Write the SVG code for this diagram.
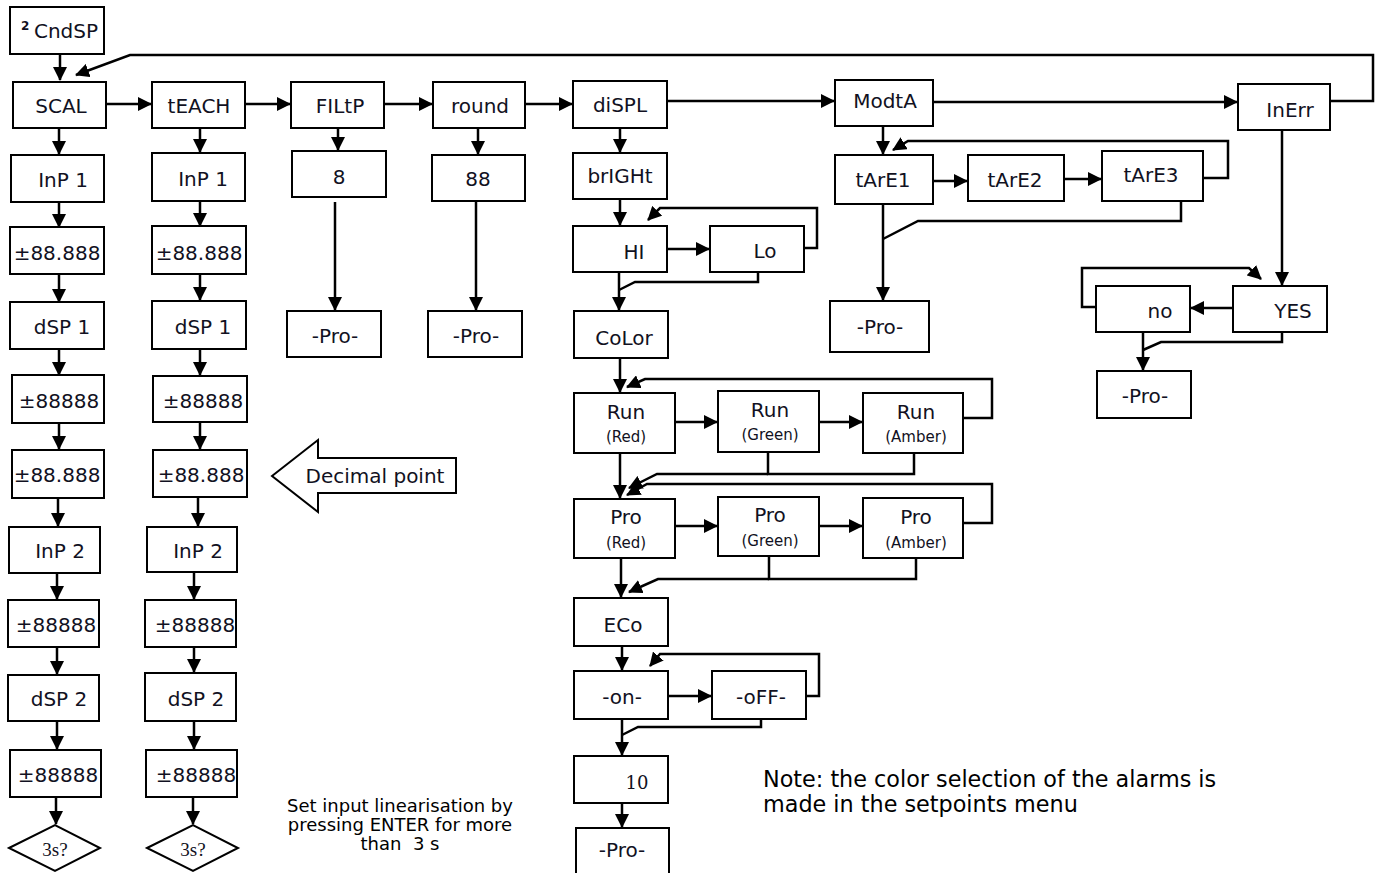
<svg xmlns="http://www.w3.org/2000/svg" width="1384" height="873" viewBox="0 0 1384 873">
<style>
.b{fill:#fff;stroke:#000;stroke-width:2}
.t{font-family:"DejaVu Sans",Verdana,sans-serif;font-size:20px;fill:#111122;text-anchor:middle}
.s{font-family:"DejaVu Sans",Verdana,sans-serif;font-size:15px;fill:#111122;text-anchor:middle}
.sf{font-family:"Liberation Serif","DejaVu Serif",serif;font-size:19px;fill:#111122;text-anchor:middle}
.c{fill:none;stroke:#000;stroke-width:2.5}
.n{font-family:"DejaVu Sans",Verdana,sans-serif;font-size:22.3px;fill:#000}
.m{font-family:"DejaVu Sans",Verdana,sans-serif;font-size:18px;fill:#000;text-anchor:middle;white-space:pre}
</style>
<defs>
<marker id="ah" viewBox="0 0 14 14" refX="13" refY="7" markerWidth="14" markerHeight="14" markerUnits="userSpaceOnUse" orient="auto">
<path d="M0,0 L14,7 L0,14 z" fill="#000"/>
</marker>
</defs>
<rect width="1384" height="873" fill="#fff"/>

<g id="connectors" class="c" marker-end="url(#ah)">
<path d="M60,54 V80"/>
<path d="M1330,101 H1373 V55 H130 L76,75"/>
<path d="M106,104 H151"/>
<path d="M245,104 H290"/>
<path d="M384,104 H432"/>
<path d="M525,104 H572"/>
<path d="M667,101 H834"/>
<path d="M933,102 H1237"/>
<path d="M59,128 V154"/>
<path d="M59,202 V227"/>
<path d="M59,274 V302"/>
<path d="M59,349 V375"/>
<path d="M59,423 V449"/>
<path d="M58,498 V526"/>
<path d="M57,573 V599"/>
<path d="M57,647 V674"/>
<path d="M57,721 V749"/>
<path d="M56,797 V824"/>
<path d="M200,128 V152"/>
<path d="M200,201 V226"/>
<path d="M200,274 V300"/>
<path d="M200,349 V375"/>
<path d="M200,422 V449"/>
<path d="M198,497 V526"/>
<path d="M194,572 V599"/>
<path d="M194,647 V672"/>
<path d="M194,721 V749"/>
<path d="M193,797 V824"/>
<path d="M338,128 V150"/>
<path d="M335,202 V310"/>
<path d="M478,128 V154"/>
<path d="M476,201 V310"/>
<path d="M620,128 V152"/>
<path d="M620,199 V225"/>
<path d="M667,249 H709"/>
<path d="M804,248 H817 V208 H660 L648,220"/>
<path d="M619,272 V310"/>
<path d="M620,358 V392"/>
<path d="M675,422 H717"/>
<path d="M819,422 H862"/>
<path d="M963,418 H992 V379 H645 L627,387"/>
<path d="M620,453 V498"/>
<path d="M675,526 H717"/>
<path d="M819,526 H862"/>
<path d="M963,523 H992 V484 H647 L627,495"/>
<path d="M621,558 V597"/>
<path d="M622,646 V670"/>
<path d="M668,696 H711"/>
<path d="M806,696 H819 V654 H660 L650,666"/>
<path d="M622,719 V755"/>
<path d="M622,803 V827"/>
<path d="M883,126 V154"/>
<path d="M933,181 H967"/>
<path d="M1064,179 H1101"/>
<path d="M1203,178 H1228 V141 H908 L893,150"/>
<path d="M883,204 V300"/>
<path d="M1282,130 V285"/>
<path d="M1233,308 H1191"/>
<path d="M1096,307 H1082 V268 H1249 L1261,279"/>
<path d="M1143,332 V370"/>
</g>
<g id="merges" class="c">
<path d="M758,272 V282 H635 L619,290"/>
<path d="M768,452 V474 H914 V453"/>
<path d="M768,474 H657 L629,488" marker-end="url(#ah)"/>
<path d="M769,556 V579 H916 V558"/>
<path d="M769,579 H658 L629,592" marker-end="url(#ah)"/>
<path d="M761,719 V727 H638 L622,735"/>
<path d="M1181,201 V221 H918 L883,239"/>
<path d="M1282,332 V342 H1161 L1143,350"/>
</g>

<g id="n-cndsp"><rect class="b" x="10" y="7" width="94" height="47"/><text x="21" y="30" style="font-family:'DejaVu Sans',sans-serif;font-size:12px;font-weight:bold;fill:#111122">2</text><text class="t" x="66" y="38">CndSP</text></g>

<g id="n-scal"><rect class="b" x="13" y="82" width="93" height="46"/><text class="t" x="61" y="113">SCAL</text></g>
<g id="n-teach"><rect class="b" x="152" y="82" width="93" height="46"/><text class="t" x="199" y="113">tEACH</text></g>
<g id="n-filtp"><rect class="b" x="291" y="82" width="93" height="46"/><text class="t" x="340" y="113">FILtP</text></g>
<g id="n-round"><rect class="b" x="433" y="82" width="92" height="46"/><text class="t" x="480" y="113">round</text></g>
<g id="n-displ"><rect class="b" x="573" y="81" width="94" height="47"/><text class="t" x="620" y="112">diSPL</text></g>
<g id="n-modta"><rect class="b" x="835" y="80" width="98" height="46"/><text class="t" x="885" y="108">ModtA</text></g>
<g id="n-inerr"><rect class="b" x="1238" y="84" width="92" height="46"/><text class="t" x="1290" y="117">InErr</text></g>

<g id="n-inp1a"><rect class="b" x="11" y="155" width="93" height="47"/><text class="t" x="63" y="187">InP 1</text></g>
<g id="n-v1a"><rect class="b" x="10" y="227" width="94" height="47"/><text class="t" x="57" y="260">±88.888</text></g>
<g id="n-dsp1a"><rect class="b" x="10" y="302" width="94" height="47"/><text class="t" x="62" y="334">dSP 1</text></g>
<g id="n-v2a"><rect class="b" x="12" y="375" width="92" height="48"/><text class="t" x="59" y="408">±88888</text></g>
<g id="n-v3a"><rect class="b" x="12" y="450" width="92" height="48"/><text class="t" x="57" y="482">±88.888</text></g>
<g id="n-inp2a"><rect class="b" x="9" y="527" width="91" height="46"/><text class="t" x="60" y="558">InP 2</text></g>
<g id="n-v4a"><rect class="b" x="8" y="600" width="91" height="47"/><text class="t" x="56" y="632">±88888</text></g>
<g id="n-dsp2a"><rect class="b" x="8" y="675" width="91" height="46"/><text class="t" x="59" y="706">dSP 2</text></g>
<g id="n-v5a"><rect class="b" x="10" y="750" width="91" height="47"/><text class="t" x="58" y="782">±88888</text></g>
<g id="n-d3a"><polygon class="b" points="9,848 55,825 100,848 55,871"/><text class="sf" x="55" y="856">3s?</text></g>

<g id="n-inp1b"><rect class="b" x="152" y="153" width="93" height="48"/><text class="t" x="203" y="186">InP 1</text></g>
<g id="n-v1b"><rect class="b" x="152" y="226" width="94" height="48"/><text class="t" x="199" y="260">±88.888</text></g>
<g id="n-dsp1b"><rect class="b" x="152" y="301" width="94" height="48"/><text class="t" x="203" y="334">dSP 1</text></g>
<g id="n-v2b"><rect class="b" x="153" y="376" width="94" height="46"/><text class="t" x="203" y="408">±88888</text></g>
<g id="n-v3b"><rect class="b" x="153" y="450" width="94" height="47"/><text class="t" x="201" y="482">±88.888</text></g>
<g id="n-inp2b"><rect class="b" x="147" y="527" width="90" height="45"/><text class="t" x="198" y="558">InP 2</text></g>
<g id="n-v4b"><rect class="b" x="145" y="600" width="91" height="47"/><text class="t" x="195" y="632">±88888</text></g>
<g id="n-dsp2b"><rect class="b" x="145" y="673" width="91" height="48"/><text class="t" x="196" y="706">dSP 2</text></g>
<g id="n-v5b"><rect class="b" x="146" y="750" width="91" height="47"/><text class="t" x="196" y="782">±88888</text></g>
<g id="n-d3b"><polygon class="b" points="147,848 193,825 238,848 193,871"/><text class="sf" x="193" y="856">3s?</text></g>

<g id="n-decimal"><polygon class="b" points="272,476 318,440 318,458 456,458 456,493 318,493 318,512"/><text class="t" x="375" y="483">Decimal point</text></g>

<g id="n-8"><rect class="b" x="292" y="151" width="94" height="46"/><text class="t" x="339" y="184">8</text></g>
<g id="n-pro1"><rect class="b" x="287" y="311" width="94" height="46"/><text class="t" x="335" y="343">-Pro-</text></g>
<g id="n-88"><rect class="b" x="432" y="155" width="93" height="46"/><text class="t" x="478" y="186">88</text></g>
<g id="n-pro2"><rect class="b" x="428" y="311" width="94" height="46"/><text class="t" x="476" y="343">-Pro-</text></g>

<g id="n-bright"><rect class="b" x="573" y="153" width="94" height="46"/><text class="t" x="620" y="183">brIGHt</text></g>
<g id="n-hi"><rect class="b" x="573" y="226" width="94" height="46"/><text class="t" x="634" y="259">HI</text></g>
<g id="n-lo"><rect class="b" x="710" y="226" width="94" height="46"/><text class="t" x="765" y="258">Lo</text></g>
<g id="n-color"><rect class="b" x="574" y="311" width="94" height="47"/><text class="t" x="624" y="345">CoLor</text></g>
<g id="n-runr"><rect class="b" x="574" y="393" width="101" height="60"/><text class="t" x="626" y="419">Run</text><text class="s" x="626" y="442">(Red)</text></g>
<g id="n-rung"><rect class="b" x="718" y="391" width="101" height="61"/><text class="t" x="770" y="417">Run</text><text class="s" x="770" y="440">(Green)</text></g>
<g id="n-runa"><rect class="b" x="863" y="393" width="100" height="60"/><text class="t" x="916" y="419">Run</text><text class="s" x="916" y="442">(Amber)</text></g>
<g id="n-pror"><rect class="b" x="574" y="499" width="101" height="59"/><text class="t" x="626" y="524">Pro</text><text class="s" x="626" y="548">(Red)</text></g>
<g id="n-prog"><rect class="b" x="718" y="497" width="101" height="59"/><text class="t" x="770" y="522">Pro</text><text class="s" x="770" y="546">(Green)</text></g>
<g id="n-proa"><rect class="b" x="863" y="498" width="100" height="60"/><text class="t" x="916" y="524">Pro</text><text class="s" x="916" y="548">(Amber)</text></g>
<g id="n-eco"><rect class="b" x="574" y="598" width="94" height="48"/><text class="t" x="623" y="632">ECo</text></g>
<g id="n-on"><rect class="b" x="574" y="671" width="94" height="48"/><text class="t" x="622" y="704">-on-</text></g>
<g id="n-off"><rect class="b" x="712" y="671" width="94" height="48"/><text class="t" x="761" y="704">-oFF-</text></g>
<g id="n-10"><rect class="b" x="574" y="756" width="94" height="47"/><text x="637" y="789" style="font-family:'DejaVu Serif',serif;font-size:18px;fill:#111122;text-anchor:middle">10</text></g>
<g id="n-pro3"><rect class="b" x="576" y="828" width="93" height="47"/><text class="t" x="622" y="857">-Pro-</text></g>

<g id="n-tare1"><rect class="b" x="835" y="155" width="98" height="49"/><text class="t" x="883" y="187">tArE1</text></g>
<g id="n-tare2"><rect class="b" x="968" y="155" width="96" height="46"/><text class="t" x="1015" y="187">tArE2</text></g>
<g id="n-tare3"><rect class="b" x="1102" y="151" width="101" height="50"/><text class="t" x="1151" y="182">tArE3</text></g>
<g id="n-pro4"><rect class="b" x="830" y="301" width="99" height="51"/><text class="t" x="880" y="334">-Pro-</text></g>

<g id="n-yes"><rect class="b" x="1233" y="286" width="94" height="46"/><text class="t" x="1293" y="318">YES</text></g>
<g id="n-no"><rect class="b" x="1096" y="286" width="94" height="46"/><text class="t" x="1160" y="318">no</text></g>
<g id="n-pro5"><rect class="b" x="1097" y="371" width="94" height="47"/><text class="t" x="1145" y="403">-Pro-</text></g>

<g id="notes">
<text class="n" x="763" y="787">Note: the color selection of the alarms is</text>
<text class="n" x="763" y="812">made in the setpoints menu</text>
<text class="m" x="400" y="812">Set input linearisation by</text>
<text class="m" x="400" y="831">pressing ENTER for more</text>
<text class="m" x="400" y="850">than  3 s</text>
</g>
</svg>
